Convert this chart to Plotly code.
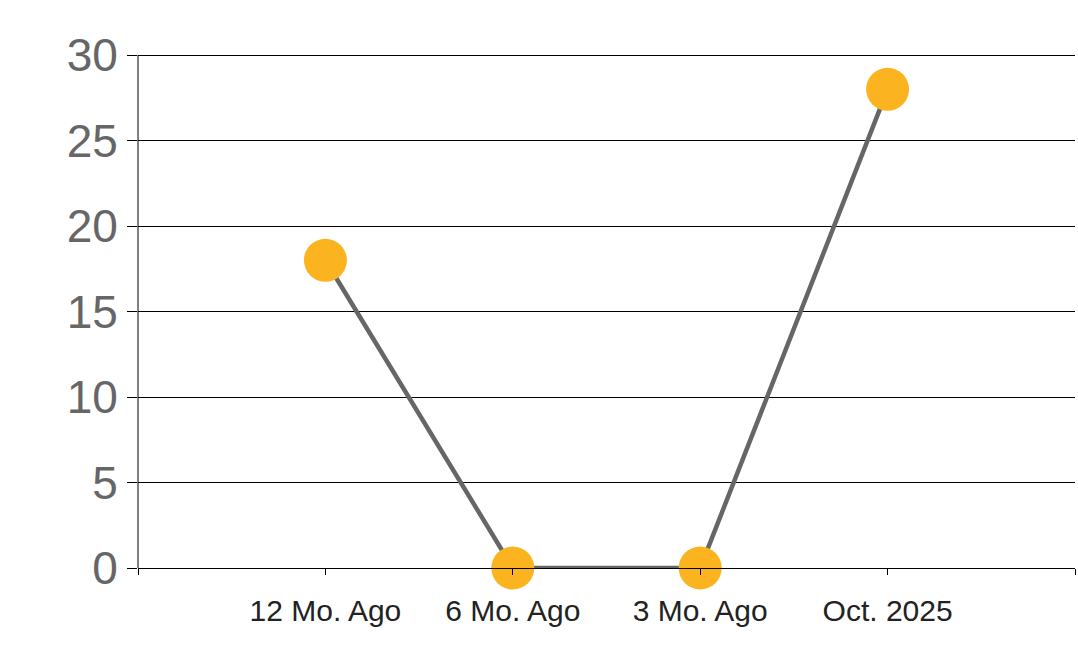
"""Line chart: count over four reporting periods."""

import plotly.graph_objects as go

# ── Data ──────────────────────────────────────────────────────────────────────
CATEGORIES = ["12 Mo. Ago", "6 Mo. Ago", "3 Mo. Ago", "Oct. 2025"]
VALUES = [18, 0, 0, 28]
Y_TICKS = [0, 5, 10, 15, 20, 25, 30]

_FONT = "Liberation Sans, Arial, sans-serif"
_LINE = "#666666"
_MARKER = "#FBB41F"

pos = list(range(len(CATEGORIES)))

fig = go.Figure(go.Scatter(
    x=pos, y=VALUES,
    mode="lines+markers",
    line=dict(color=_LINE, width=4.5),
    marker=dict(size=43, color=_MARKER),
    cliponaxis=False,
    hovertemplate="%{y}<extra></extra>",
))

fig.update_layout(
    width=1078, height=663,
    paper_bgcolor="white", plot_bgcolor="white",
    margin=dict(t=50, b=95, l=138, r=3),
    showlegend=False,
    font=dict(family=_FONT),
    xaxis=dict(
        range=[-1, len(CATEGORIES)],
        tickmode="array",
        tickvals=list(range(-1, len(CATEGORIES) + 1)),
        ticktext=[""] + CATEGORIES + [""],
        ticks="outside", ticklen=6, tickcolor="black", tickwidth=1,
        tickfont=dict(size=30, color="#222222"),
        showgrid=False, zeroline=False,
        showline=True, linecolor="black", linewidth=1,
        ticklabelstandoff=10,
        automargin=False,
    ),
    yaxis=dict(
        range=[0, 30.3],  # a little headroom so the 30 gridline is drawn
        tickvals=Y_TICKS,
        ticks="outside", ticklen=10, tickcolor="black", tickwidth=1,
        tickfont=dict(size=46, color="#666666"),
        showgrid=True, gridcolor="black", gridwidth=1,
        zeroline=False,
        showline=False,
        automargin=False,
    ),
)

# left axis line only up to the top tick (not into the headroom)
fig.add_shape(
    type="line", xref="x domain", yref="y",
    x0=0, x1=0, y0=Y_TICKS[0], y1=Y_TICKS[-1],
    line=dict(color="black", width=1), layer="above",
)

# page body has an 8px default margin; drop it so the figure sits at 0,0
fig.write_html(
    "out.html",
    config={"displayModeBar": False},
    post_script="document.body.style.margin='0';document.body.style.overflow='hidden';",
)
